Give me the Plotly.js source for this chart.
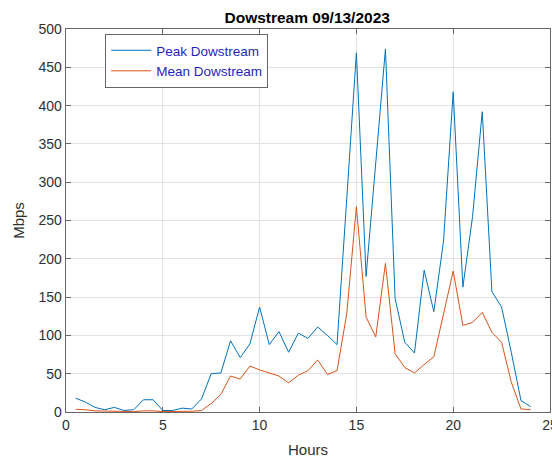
<!DOCTYPE html>
<html>
<head>
<meta charset="utf-8">
<script src="https://cdn.plot.ly/plotly-3.0.1.min.js"></script>
<style>html,body{margin:0;padding:0;background:#fff;}#chart{width:552px;height:458px;}</style>
</head>
<body>
<div id="chart"></div>
<script>
const hours = [0.5,1,1.5,2,2.5,3,3.5,4,4.5,5,5.5,6,6.5,7,7.5,8,8.5,9,9.5,10,10.5,11,11.5,12,12.5,13,13.5,14,14.5,15,15.5,16,16.5,17,17.5,18,18.5,19,19.5,20,20.5,21,21.5,22,22.5,23,23.5,24];
const peakDownstream = [18,13,6,3,6,2,3,16,16,2,2,5,4,17,50,51,93,71,89,137,88,105,78,103,96,111,100,88,278,469,177,320,474,148,91,77,185,131,223,418,163,255,392,157,137,78,15,7];
const meanDownstream = [3.5,3,1.5,1,1,0.5,0.5,1.5,1.5,0.5,0.5,1,1,2,11,23,47,43,60,55,51,47,38,48,54,68,49,54,128,268,124,98,194,76,58,51,62,72,128,184,113,117,130,104,91,39,4,3];
const seriesNames = ["Peak Dowstream","Mean Dowstream"];
const titleText = "Dowstream 09/13/2023";
const xLabel = "Hours";
const yLabel = "Mbps";

const font = "Liberation Sans, Arial, Helvetica, sans-serif";
const traces = [
  {x: hours, y: peakDownstream, type: "scatter", mode: "lines", name: seriesNames[0], line: {color: "#0072BD", width: 1}},
  {x: hours, y: meanDownstream, type: "scatter", mode: "lines", name: seriesNames[1], line: {color: "#D95319", width: 1}}
];
const axisCommon = {
  showline: true, linecolor: "#666", linewidth: 1.3, mirror: "ticks",
  ticks: "inside", ticklen: 5, tickcolor: "#666", tickwidth: 1,
  showgrid: true, gridcolor: "#e3e3e3", gridwidth: 1, zeroline: false,
  ticklabeloverflow: "allow",
  tickfont: {family: font, size: 14, color: "#303030"}
};
const layout = {
  width: 552, height: 458,
  margin: {l: 66, r: 2, t: 29, b: 46},
  paper_bgcolor: "#fff", plot_bgcolor: "#fff",
  title: {text: "<b>" + titleText + "</b>", font: {family: font, size: 15.5, color: "#000"}, x: 0.5565, xanchor: "center", y: 0.962, yanchor: "middle"},
  xaxis: Object.assign({}, axisCommon, {range: [0, 25], dtick: 5, tick0: 0,
    title: {text: xLabel, font: {family: font, size: 15, color: "#303030"}, standoff: 12}}),
  yaxis: Object.assign({}, axisCommon, {range: [0, 500], dtick: 50, tick0: 0,
    title: {text: yLabel, font: {family: font, size: 15, color: "#303030"}, standoff: 10}}),
  showlegend: true,
  legend: {x: 0.081, y: 0.987, xanchor: "left", yanchor: "top", bgcolor: "#fff", bordercolor: "#666", borderwidth: 1,
    font: {family: font, size: 13.5, color: "#1f1fc0"}, tracegroupgap: 0, itemwidth: 40}
};
Plotly.newPlot("chart", traces, layout, {displayModeBar: false, staticPlot: true});
</script>
</body>
</html>
